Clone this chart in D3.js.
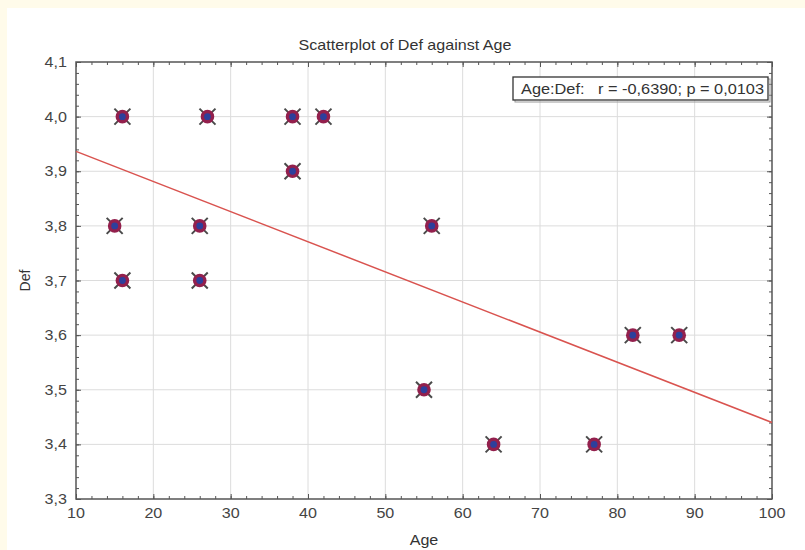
<!DOCTYPE html>
<html><head><meta charset="utf-8">
<script src="https://cdn.jsdelivr.net/npm/d3@7"></script>
<style>
html,body{margin:0;padding:0;background:#fffbea;}
svg{display:block;}
</style></head>
<body>
<svg id="chart" width="805" height="550"></svg>
<script>
const ages = [16, 27, 38, 42, 38, 15, 26, 56, 16, 26, 55, 64, 77, 82, 88];
const defs = [4.0, 4.0, 4.0, 4.0, 3.9, 3.8, 3.8, 3.8, 3.7, 3.7, 3.5, 3.4, 3.4, 3.6, 3.6];
const xTicks = [10, 20, 30, 40, 50, 60, 70, 80, 90, 100];
const yTicks = [3.3, 3.4, 3.5, 3.6, 3.7, 3.8, 3.9, 4.0, 4.1];
const titleText = "Scatterplot of Def against Age";
const xLabel = "Age";
const yLabel = "Def";
const legendText = "Age:Def:   r = -0,6390; p = 0,0103";

const svg = d3.select("#chart");
const W = 805, H = 550;
const m = {left: 76, right: 772, top: 62, bottom: 499};
const font = "'Liberation Sans', Arial, sans-serif";
const SX = 1.15; // horizontal stretch of text in the reference

svg.append("rect").attr("x", 7).attr("y", 8).attr("width", W - 7).attr("height", H - 8).attr("fill", "#ffffff");

const x = d3.scaleLinear().domain([10, 100]).range([m.left, m.right]);
const y = d3.scaleLinear().domain([3.3, 4.1]).range([m.bottom, m.top]);
const fmt = v => d3.format(".1f")(v).replace(".", ",");
const fmtX = v => String(v);

// grid
const g = svg.append("g");
g.selectAll(".vg").data(xTicks.slice(1, -1)).join("line")
  .attr("x1", d => x(d)).attr("x2", d => x(d)).attr("y1", m.top).attr("y2", m.bottom)
  .attr("stroke", "#dcdcdc").attr("stroke-width", 1);
g.selectAll(".hg").data(yTicks.slice(1, -1)).join("line")
  .attr("y1", d => y(d)).attr("y2", d => y(d)).attr("x1", m.left).attr("x2", m.right)
  .attr("stroke", "#dcdcdc").attr("stroke-width", 1);

// axes with inward ticks
const minorX = d3.range(10, 100.001, 2);
const minorY = d3.range(3.3, 4.1001, 0.02);
function addAxis(axisGen, transform, ticks, size) {
  const a = svg.append("g").attr("transform", transform)
    .call(axisGen.tickValues(ticks).tickSize(size).tickFormat(""));
  a.select(".domain").remove();
  a.selectAll("line").attr("stroke", "#555").attr("stroke-width", 1);
  return a;
}
addAxis(d3.axisTop(x), `translate(0,${m.bottom})`, xTicks, 5);
addAxis(d3.axisTop(x), `translate(0,${m.bottom})`, minorX, 3);
addAxis(d3.axisBottom(x), `translate(0,${m.top})`, xTicks, 5);
addAxis(d3.axisBottom(x), `translate(0,${m.top})`, minorX, 3);
addAxis(d3.axisRight(y), `translate(${m.left},0)`, yTicks, 5);
addAxis(d3.axisRight(y), `translate(${m.left},0)`, minorY, 3);
addAxis(d3.axisLeft(y), `translate(${m.right},0)`, yTicks, 5);
addAxis(d3.axisLeft(y), `translate(${m.right},0)`, minorY, 3);

// tick labels
svg.append("g").selectAll("text").data(xTicks).join("text")
  .attr("transform", d => `translate(${x(d)},${m.bottom + 19}) scale(${SX},1)`)
  .attr("text-anchor", "middle").attr("font-family", font).attr("font-size", 14)
  .attr("fill", "#444").text(fmtX);
svg.append("g").selectAll("text").data(yTicks).join("text")
  .attr("transform", d => `translate(${m.left - 9},${y(d) + 5}) scale(${SX},1)`)
  .attr("text-anchor", "end").attr("font-family", font).attr("font-size", 14)
  .attr("fill", "#444").text(fmt);

// frame
svg.append("rect").attr("x", m.left).attr("y", m.top)
  .attr("width", m.right - m.left).attr("height", m.bottom - m.top)
  .attr("fill", "none").attr("stroke", "#555").attr("stroke-width", 1.5);

// regression line (least squares from data)
const mx = d3.mean(ages), my = d3.mean(defs);
let sxy = 0, sxx = 0;
ages.forEach((a, i) => { sxy += (a - mx) * (defs[i] - my); sxx += (a - mx) ** 2; });
const slope = sxy / sxx, intercept = my - slope * mx;
const xd = x.domain();
svg.append("line")
  .attr("x1", x(xd[0])).attr("y1", y(intercept + slope * xd[0]))
  .attr("x2", x(xd[1])).attr("y2", y(intercept + slope * xd[1]))
  .attr("stroke", "#d9534f").attr("stroke-width", 1.5);

// points
const pts = svg.append("g").selectAll("g").data(ages.map((a, i) => [a, defs[i]])).join("g")
  .attr("transform", d => `translate(${x(d[0])},${y(d[1])})`);
pts.append("path").attr("d", "M-8,-8L8,8M-8,8L8,-8").attr("stroke", "#4a4a4a").attr("stroke-width", 2);
pts.append("circle").attr("r", 6.8).attr("fill", "#93204d");
pts.append("circle").attr("r", 3.4).attr("fill", "#2d3f9c");

// legend
const lg = svg.append("g");
lg.append("rect").attr("x", 515).attr("y", 79).attr("width", 255).attr("height", 23)
  .attr("fill", "none").attr("stroke", "#999").attr("stroke-width", 1);
lg.append("rect").attr("x", 513).attr("y", 77).attr("width", 255).attr("height", 23)
  .attr("fill", "#fff").attr("stroke", "#333").attr("stroke-width", 1.3);
lg.append("text").attr("x", 521).attr("y", 94).attr("font-family", font).attr("font-size", 14.5)
  .attr("fill", "#333").style("white-space", "pre")
  .attr("textLength", 243).attr("lengthAdjust", "spacingAndGlyphs").text(legendText);

// title and axis labels
svg.append("text").attr("transform", `translate(405,50) scale(${SX},1)`).attr("text-anchor", "middle")
  .attr("font-family", font).attr("font-size", 14).attr("fill", "#333").text(titleText);
svg.append("text").attr("transform", `translate(${(m.left + m.right) / 2},545) scale(${SX},1)`).attr("text-anchor", "middle")
  .attr("font-family", font).attr("font-size", 14).attr("fill", "#333").text(xLabel);
svg.append("text").attr("transform", `translate(30,${(m.top + m.bottom) / 2}) rotate(-90)`)
  .attr("text-anchor", "middle").attr("font-family", font).attr("font-size", 14)
  .attr("fill", "#333").text(yLabel);
</script>
</body></html>
